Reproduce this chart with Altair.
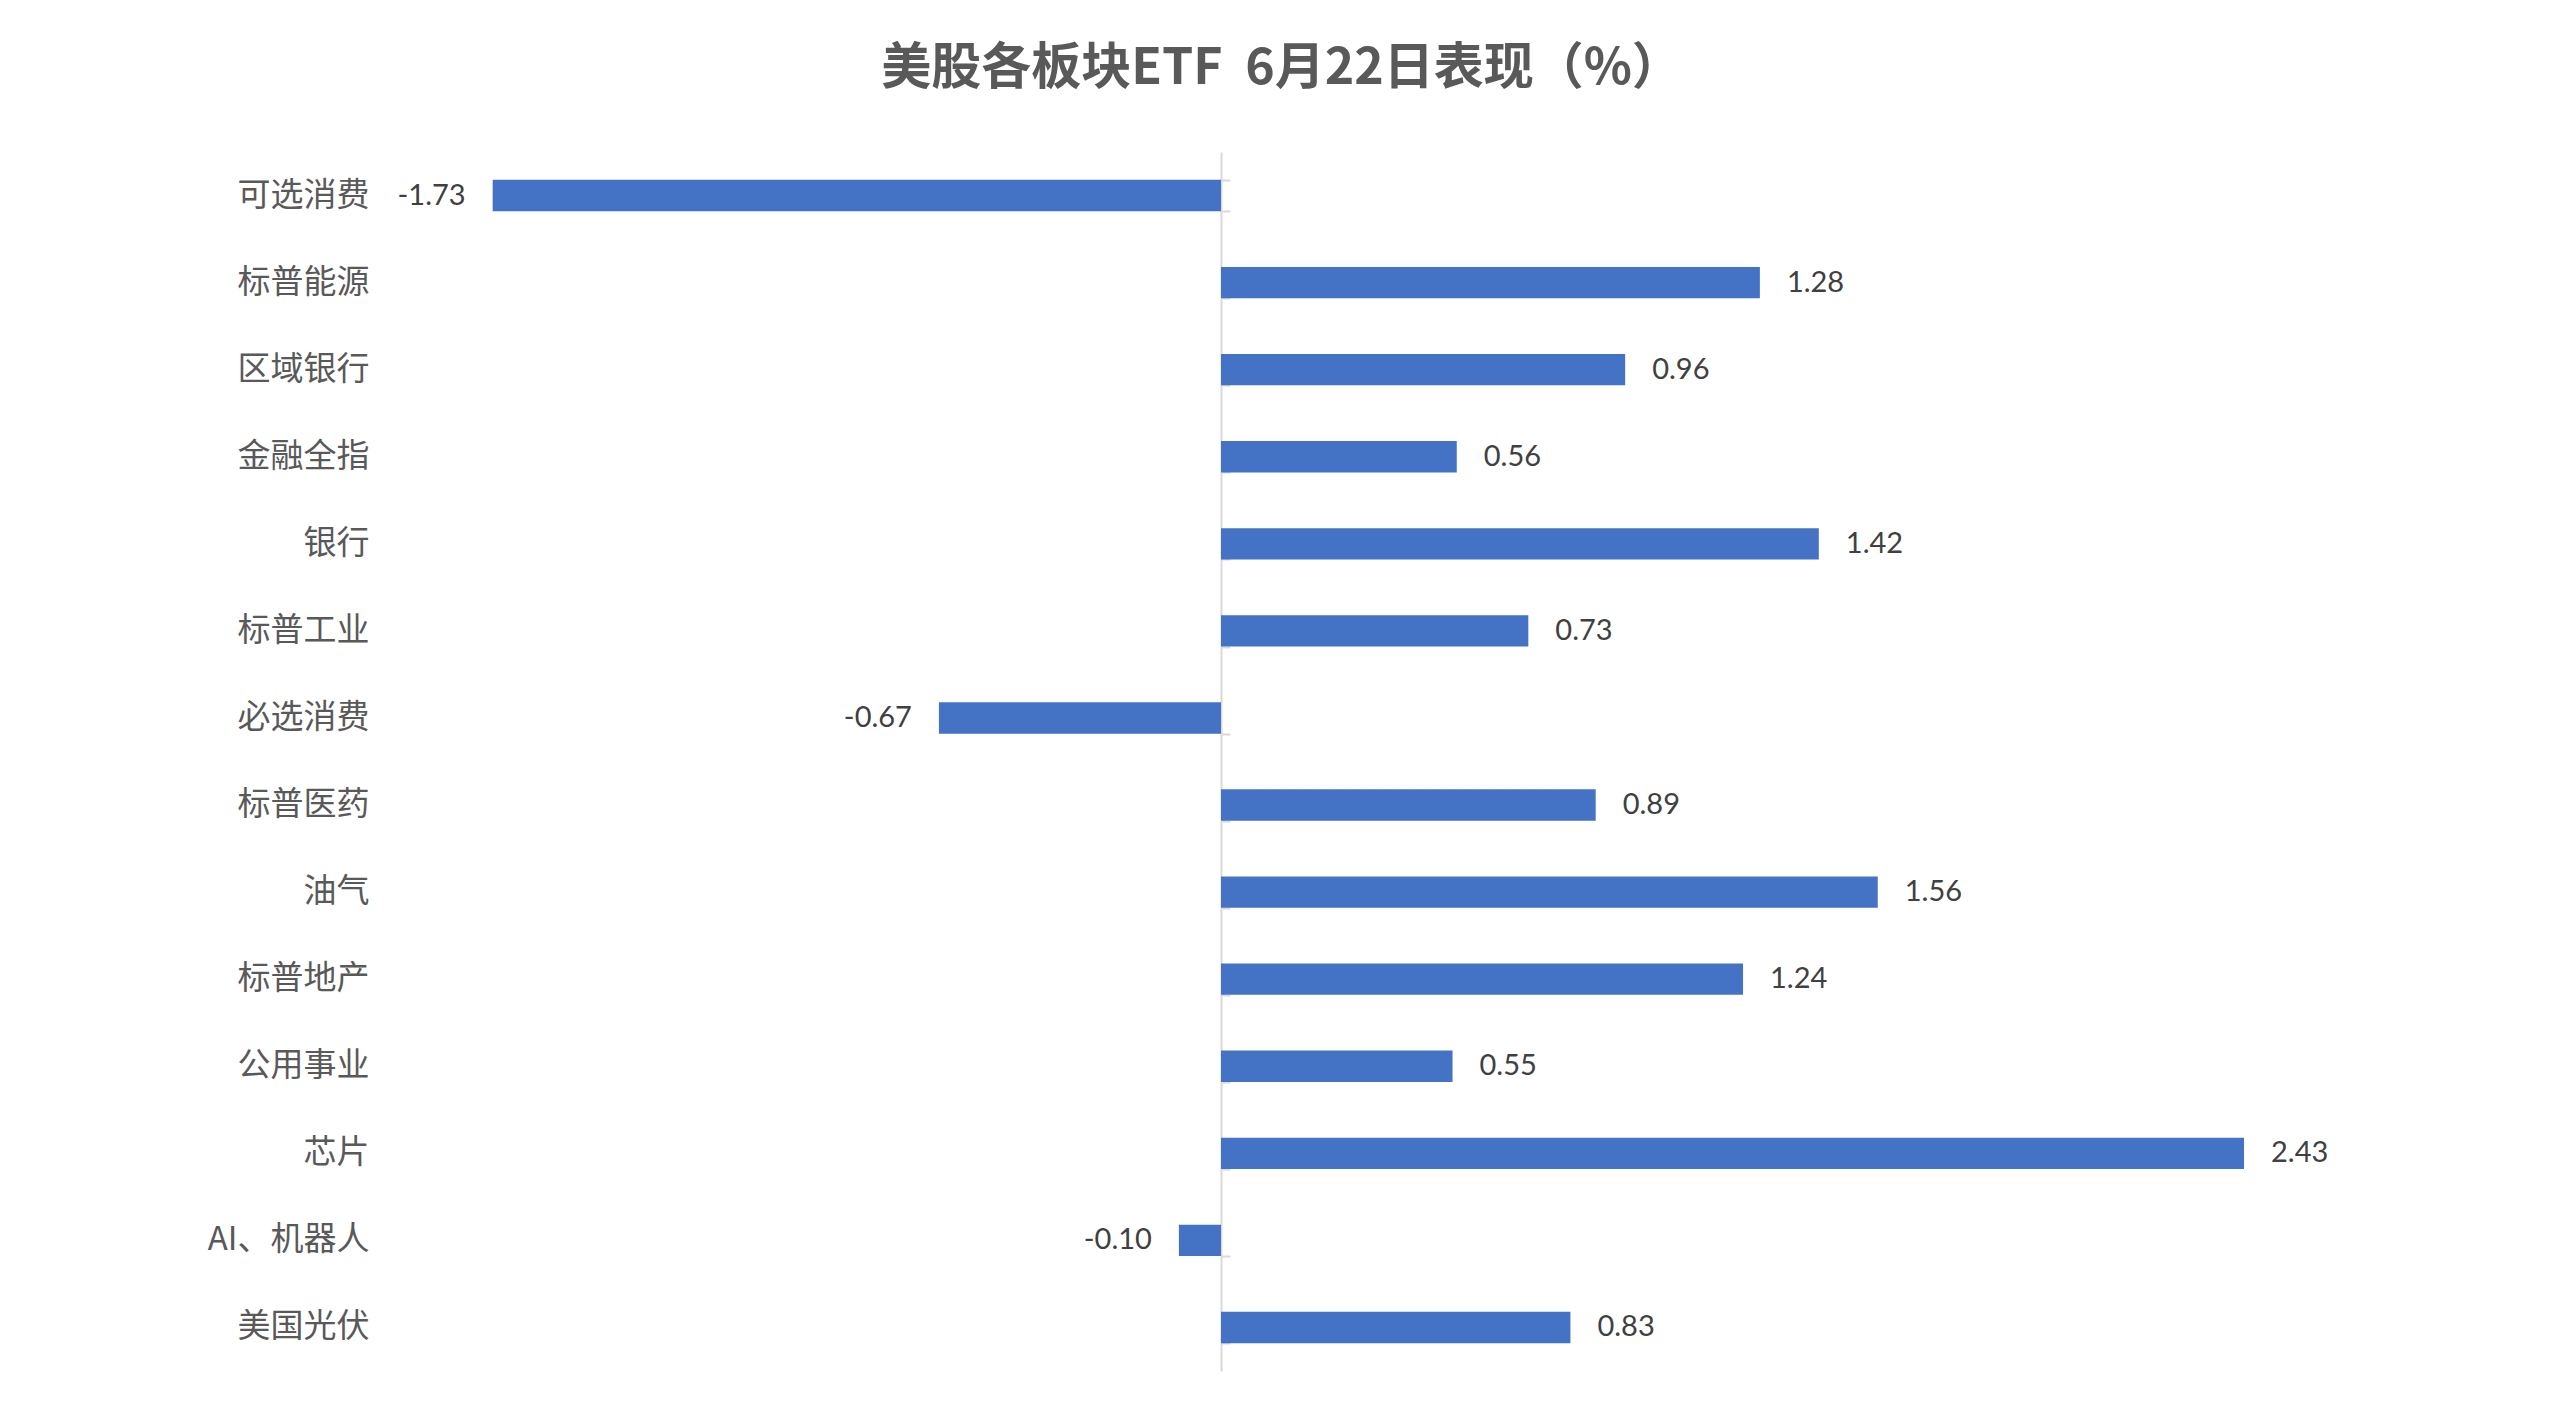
import altair as alt
import pandas as pd

categories = ["可选消费", "标普能源", "区域银行", "金融全指", "银行", "标普工业", "必选消费",
              "标普医药", "油气", "标普地产", "公用事业", "芯片", "AI、机器人", "美国光伏"]
values = [-1.73, 1.28, 0.96, 0.56, 1.42, 0.73, -0.67, 0.89, 1.56, 1.24, 0.55, 2.43, -0.10, 0.83]
title_text = "美股各板块ETF\u00a0\u00a06月22日表现（%）"

df = pd.DataFrame({"cat": categories, "val": values})
df["lbl"] = df["val"].map(lambda v: f"{v:.2f}")

W, H = 2105, 1219
x_dom = [-2, 3]
zero_frac = (0 - x_dom[0]) / (x_dom[1] - x_dom[0])

xs = alt.X("val:Q", scale=alt.Scale(domain=x_dom, nice=False, zero=False), axis=None)
yscale = alt.Scale(paddingInner=0.64, paddingOuter=0.32)

base = alt.Chart(df)

bars = base.mark_bar(color="#4472C4").encode(
    x=xs,
    x2=alt.datum(0),
    y=alt.Y("cat:N", sort=categories, scale=yscale, title=None,
            axis=alt.Axis(orient="left", domain=False, ticks=False, labelPadding=10,
                          labelFont="Noto Sans CJK SC", labelFontSize=33,
                          labelColor="#595959", labelFontWeight="normal")),
)

axis_layer = base.mark_bar(opacity=0).encode(
    x=xs,
    y=alt.Y("cat:N", sort=categories, scale=yscale, title=None,
            axis=alt.Axis(orient="right", labels=False, domain=True, domainColor="#d9d9d9",
                          domainWidth=2, ticks=True, tickColor="#d9d9d9", tickWidth=2,
                          tickSize=9, tickBand="extent", offset=-(1 - zero_frac) * W)),
)

pos_text = base.transform_filter("datum.val >= 0").mark_text(
    align="left", baseline="middle", dx=27, font="Lato", fontSize=29, color="#404040"
).encode(x=xs, y=alt.Y("cat:N", sort=categories, scale=yscale, axis=None), text="lbl:N")

neg_text = base.transform_filter("datum.val < 0").mark_text(
    align="right", baseline="middle", dx=-27, font="Lato", fontSize=29, color="#404040"
).encode(x=xs, y=alt.Y("cat:N", sort=categories, scale=yscale, axis=None), text="lbl:N")

chart = alt.layer(bars, axis_layer, pos_text, neg_text).resolve_axis(y="independent").properties(
    width=W, height=H,
    title=alt.TitleParams(title_text, font="Noto Sans CJK SC", fontSize=50, fontWeight="bold",
                          color="#595959", anchor="middle", dx=-150, offset=58),
    autosize=alt.AutoSizeParams(type="none"),
    padding={"left": 379, "top": 152, "right": 76, "bottom": 41},
    background="white",
).configure_view(stroke=None)

chart.save("out.html", embed_options={"renderer": "svg", "actions": False})
